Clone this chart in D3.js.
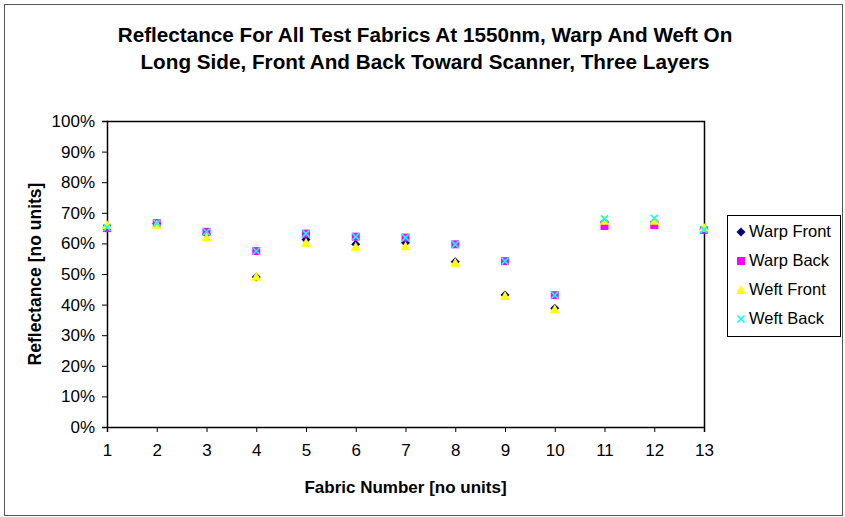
<!DOCTYPE html>
<html>
<head>
<meta charset="utf-8">
<script src="https://cdn.jsdelivr.net/npm/d3@7"></script>
<style>
  body { margin: 0; background: #fff; }
  svg text { font-family: "Liberation Sans", Arial, sans-serif; fill: #000; }
</style>
</head>
<body>
<div id="chart"></div>
<script>
// data (percent)
var fabrics = [1, 2, 3, 4, 5, 6, 7, 8, 9, 10, 11, 12, 13];
var warpFront = [65, 66.5, 63, 49, 61.3, 59.7, 60.2, 54, 43.1, 38.8, 67, 67, 64.5];
var warpBack  = [65, 66.6, 63.8, 57.5, 63.2, 62.2, 61.9, 59.7, 54.2, 43.1, 65.7, 66, 64.4];
var weftFront = [66, 66.1, 62, 49.1, 60.2, 58.9, 59.1, 53.7, 42.8, 38.5, 67.4, 67.4, 65.1];
var weftBack  = [65.2, 66.6, 63.8, 57.5, 63.2, 62.2, 61.9, 59.7, 54.2, 43.1, 68, 68.2, 64.5];
var seriesNames = ["Warp Front", "Warp Back", "Weft Front", "Weft Back"];
var yTicks = [0, 10, 20, 30, 40, 50, 60, 70, 80, 90, 100];

var series = [
  {name: seriesNames[0], values: warpFront, shape: "diamond", color: "#000080"},
  {name: seriesNames[1], values: warpBack, shape: "square", color: "#ff00ff"},
  {name: seriesNames[2], values: weftFront, shape: "triangle", color: "#ffff00"},
  {name: seriesNames[3], values: weftBack, shape: "x", color: "#00ffff"}
];

var W = 845, H = 517;
var margin = {top: 121, left: 107, right: 141, bottom: 90};
var width = W - margin.left - margin.right,
    height = H - margin.top - margin.bottom;

var svg = d3.select("#chart").append("svg")
    .attr("width", W)
    .attr("height", H);

// outer chart border
svg.append("rect")
    .attr("x", 4.5).attr("y", 4.5)
    .attr("width", 838).attr("height", 511)
    .attr("fill", "#fff")
    .attr("stroke", "#555")
    .attr("stroke-width", 1);

// title
var title = svg.append("text")
    .attr("text-anchor", "middle")
    .style("font-weight", "bold")
    .style("font-size", "20.7px");
title.append("tspan").attr("x", 425).attr("y", 42)
    .text("Reflectance For All Test Fabrics At 1550nm, Warp And Weft On");
title.append("tspan").attr("x", 425).attr("y", 69)
    .text("Long Side, Front And Back Toward Scanner, Three Layers");

var g = svg.append("g")
    .attr("transform", "translate(" + margin.left + "," + margin.top + ")");

var x = d3.scaleLinear()
    .domain([1, 13])
    .range([0, width]);
var y = d3.scaleLinear()
    .domain([0, 100])
    .range([height, 0]);

// plot area frame (top and right)
g.append("path")
    .attr("d", "M0,0.5H" + (width + 0.5) + "V" + height)
    .attr("fill", "none")
    .attr("stroke", "#000")
    .attr("stroke-width", 1.5);

var xAxis = d3.axisBottom(x)
    .tickValues(fabrics)
    .tickFormat(d3.format("d"))
    .tickSize(5)
    .tickPadding(12);
var yAxis = d3.axisLeft(y)
    .tickValues(yTicks)
    .tickFormat(function(d) { return d + "%"; })
    .tickSize(5)
    .tickPadding(7);

var gx = g.append("g")
    .attr("transform", "translate(0," + height + ")")
    .call(xAxis);
var gy = g.append("g").call(yAxis);

[gx, gy].forEach(function(a) {
  a.select(".domain").attr("stroke", "#000").attr("stroke-width", 1.5);
  a.selectAll(".tick line").attr("stroke", "#000");
  a.selectAll(".tick text")
      .style("font-size", "17px")
      .style("font-family", "'Liberation Sans', Arial, sans-serif")
      .attr("fill", "#000");
});

// axis titles
svg.append("text")
    .attr("x", margin.left + width / 2)
    .attr("y", 493)
    .attr("text-anchor", "middle")
    .style("font-weight", "bold")
    .style("font-size", "17px")
    .text("Fabric Number [no units]");
svg.append("text")
    .attr("transform", "translate(41," + (margin.top + height / 2) + ") rotate(-90)")
    .attr("text-anchor", "middle")
    .style("font-weight", "bold")
    .style("font-size", "17.5px")
    .text("Reflectance [no units]");

function markerPath(shape) {
  if (shape === "diamond") return "M0,-4.5L4.5,0L0,4.5L-4.5,0Z";
  if (shape === "square") return "M-4,-4H4V4H-4Z";
  if (shape === "triangle") return "M0,-5L5,4H-5Z";
  return "M-3.5,-3.5L3.5,3.5M3.5,-3.5L-3.5,3.5";
}

function drawMarker(sel, s) {
  if (s.shape === "x") {
    sel.attr("d", markerPath(s.shape))
        .attr("fill", "none")
        .attr("stroke", s.color)
        .attr("stroke-width", 1.6);
  } else {
    sel.attr("d", markerPath(s.shape))
        .attr("fill", s.color)
        .attr("stroke", "none");
  }
}

series.forEach(function(s) {
  g.append("g").selectAll("path")
      .data(s.values)
    .enter().append("path")
      .attr("transform", function(d, i) {
        return "translate(" + x(fabrics[i]) + "," + y(d) + ")";
      })
      .call(drawMarker, s);
});

// legend
var legend = svg.append("g").attr("transform", "translate(727,215)");
legend.append("rect")
    .attr("x", 0.5).attr("y", 0.5)
    .attr("width", 113).attr("height", 121)
    .attr("fill", "#fff")
    .attr("stroke", "#000");
series.forEach(function(s, i) {
  var row = legend.append("g").attr("transform", "translate(0," + (16 + i * 29) + ")");
  row.append("path")
      .attr("transform", "translate(14,1)")
      .call(drawMarker, s);
  row.append("text")
      .attr("x", 22).attr("y", 6)
      .style("font-size", "16.5px")
      .text(s.name);
});
</script>
</body>
</html>
